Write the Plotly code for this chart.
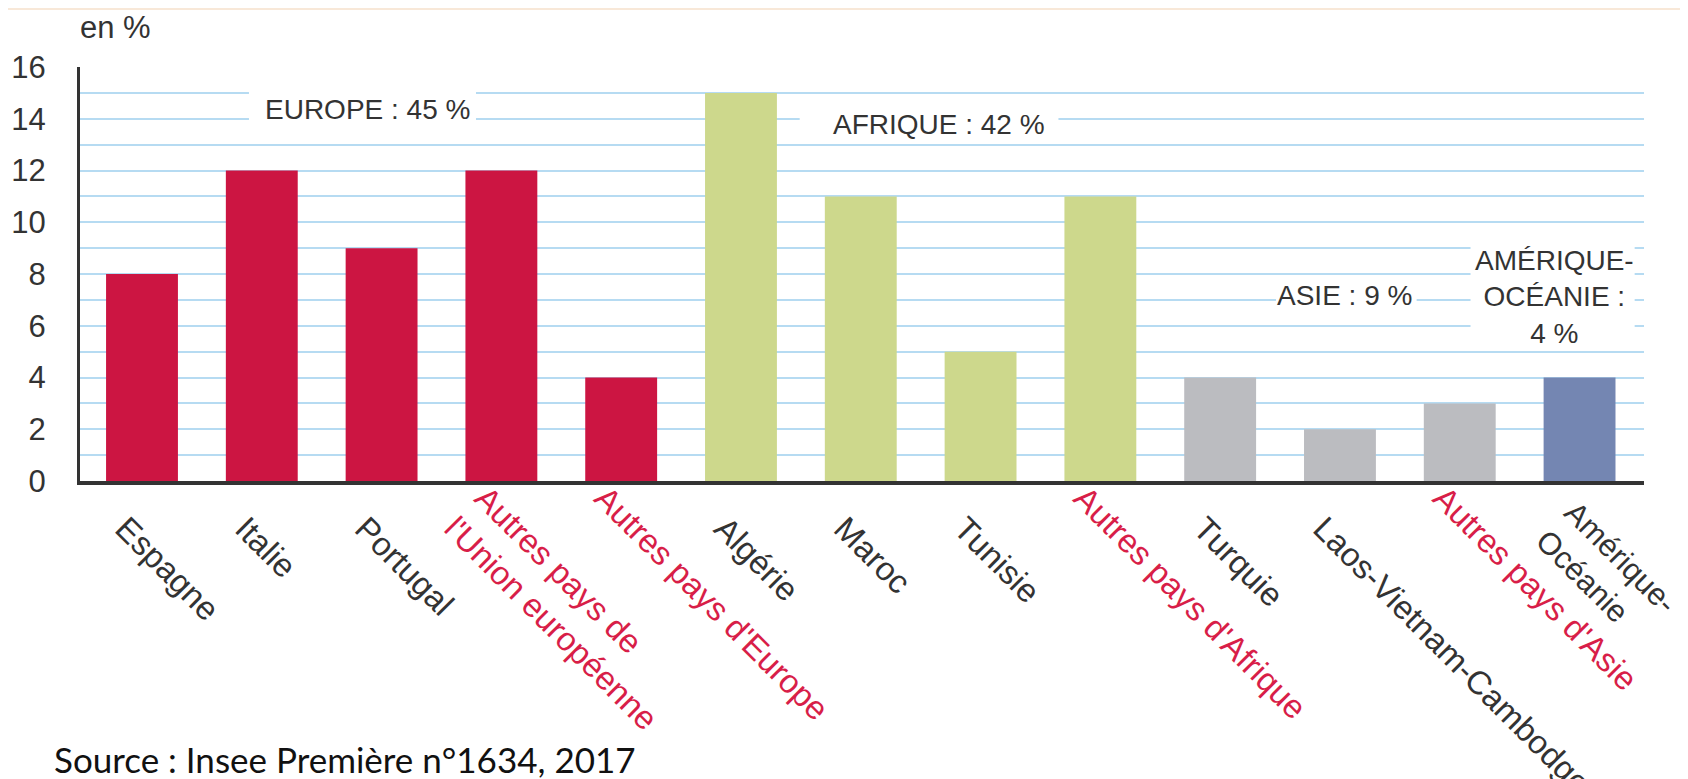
import plotly.graph_objects as go

# ---- data ----
categories = ["Espagne", "Italie", "Portugal", "Autres pays de<br>l'Union européenne",
              "Autres pays d'Europe", "Algérie", "Maroc", "Tunisie", "Autres pays d'Afrique",
              "Turquie", "Laos-Vietnam-Cambodge", "Autres pays d'Asie", "Amérique-<br>Océanie"]
values = [8, 12, 9, 12, 4, 15, 11, 5, 11, 4, 2, 3, 4]
regions = ["Europe"] * 5 + ["Afrique"] * 4 + ["Asie"] * 3 + ["Amérique-Océanie"]
is_other = [False, False, False, True, True, False, False, False, True, False, False, True, False]
y_ticks = [0, 2, 4, 6, 8, 10, 12, 14, 16]
region_labels = ["EUROPE : 45 %", "AFRIQUE : 42 %", "ASIE : 9 %", "AMÉRIQUE-<br>OCÉANIE :<br>4 %"]

# ---- styles ----
region_colors = {"Europe": "#cc1542", "Afrique": "#cdd88c", "Asie": "#bbbcc0", "Amérique-Océanie": "#7486b2"}
RED_TXT = "#d81e48"
TXT = "#333333"
GRID = "#b6dbf2"
SANS = "Liberation Sans Narrow, Arial Narrow, Liberation Sans, Arial, sans-serif"

xs = list(range(len(categories)))
last = len(categories) - 1
idx_black = [i for i in xs if not is_other[i] and i != last]
idx_red = [i for i in xs if is_other[i]]
idx_last = [last]

def bar(idx, axis):
    return go.Bar(
        x=idx, y=[values[i] for i in idx], xaxis=axis, yaxis="y",
        marker=dict(color=[region_colors[regions[i]] for i in idx], line=dict(width=0)),
        width=0.6, hoverinfo="skip",
    )

fig = go.Figure()
fig.add_trace(bar(idx_black, "x"))
fig.add_trace(bar(idx_red, "x2"))
fig.add_trace(bar(idx_last, "x3"))

# white masks behind region labels (interrupt the gridlines)
masks = [(0.893, 2.788, 13.4, 15.6), (5.49, 7.65, 13.4, 14.6), (9.466, 10.64, 6.5, 7.5), (11.09, 12.46, 5.5, 9.5)]
for x0, x1, y0, y1 in masks:
    fig.add_shape(type="rect", xref="x", yref="y", x0=x0, x1=x1, y0=y0, y1=y1,
                  fillcolor="white", line=dict(width=0), layer="above")

label_pos = [(1.886, 14.34), (6.653, 13.76), (10.04, 7.15), (11.79, 7.11)]
for txt, (ax, ay) in zip(region_labels, label_pos):
    fig.add_annotation(x=ax, y=ay, xref="x", yref="y", text=txt, showarrow=False,
                       font=dict(family=SANS, size=28, color=TXT), align="center")

fig.add_annotation(x=-0.0013, y=1.0966, xref="paper", yref="paper", text="en %", showarrow=False,
                   xanchor="left", yanchor="middle", font=dict(family=SANS, size=31, color=TXT))
fig.add_annotation(x=-0.0179, y=-0.6715, xref="paper", yref="paper",
                   text="Source : Insee Première n°1634, 2017", showarrow=False,
                   xanchor="left", yanchor="middle", font=dict(family="Lato, Carlito, sans-serif", size=35, color="#111111"))

# faint top border
fig.add_shape(type="line", xref="paper", yref="paper", x0=-0.06, x1=1.03, y0=1.14, y1=1.14,
              line=dict(color="#f8e8d8", width=2))

xcommon = dict(range=[-0.5175, 12.538], tickmode="array", tickangle=45, showgrid=False, zeroline=False,
               automargin=False, ticklabeloverflow="allow")

# the page body adds an 8 px offset: margins are shifted to compensate
fig.update_layout(
    width=1680, height=771,
    margin=dict(l=72, r=44, t=59, b=298),
    paper_bgcolor="white", plot_bgcolor="white",
    showlegend=False,
    xaxis=dict(**xcommon, tickvals=idx_black, ticktext=[categories[i] for i in idx_black],
               showline=True, linecolor="#333333", linewidth=4, ticklabelstandoff=11, ticklabelshift=-17,
               tickfont=dict(family=SANS, size=33, color=TXT)),
    xaxis2=dict(**xcommon, tickvals=idx_red, ticktext=[categories[i] for i in idx_red],
                overlaying="x", anchor="y", side="bottom", showline=False,
                ticklabelstandoff=-10, ticklabelshift=-17,
                tickfont=dict(family=SANS, size=33, color=RED_TXT)),
    xaxis3=dict(**xcommon, tickvals=idx_last, ticktext=[categories[i] for i in idx_last],
                overlaying="x", anchor="y", side="bottom", showline=False,
                ticklabelstandoff=6, ticklabelshift=-6,
                tickfont=dict(family=SANS, size=31, color=TXT)),
    yaxis=dict(
        range=[0, 16], tickmode="array", tickvals=y_ticks, automargin=False,
        showgrid=True, gridcolor=GRID, gridwidth=2, zeroline=False,
        minor=dict(dtick=1, showgrid=True, gridcolor=GRID, gridwidth=2),
        showline=True, linecolor="#333333", linewidth=3,
        ticklabelstandoff=25,
        tickfont=dict(family=SANS, size=31, color=TXT),
    ),
)

fig.write_html("out.html")
